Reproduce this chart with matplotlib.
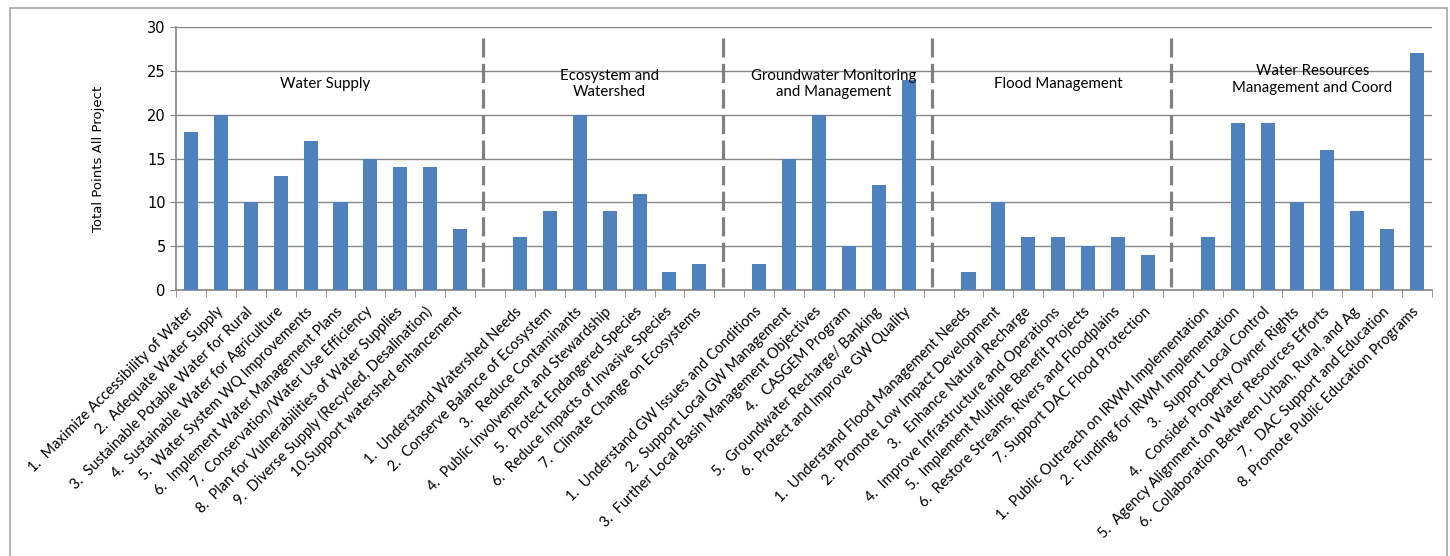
import numpy as np
import matplotlib.pyplot as plt
from matplotlib.patches import Rectangle

# groups of objectives and their total points
groups = ["Water Supply", "Ecosystem and\nWatershed", "Groundwater Monitoring\nand Management",
          "Flood Management", "Water Resources\nManagement and Coord"]

water_supply = ["1.  Maximize Accessibility of Water", "2.  Adequate Water Supply",
                "3.  Sustainable Potable Water for Rural", "4.  Sustainable Water for Agriculture",
                "5.  Water System WQ Improvements", "6.  Implement Water Management Plans",
                "7.  Conservation/Water Use Efficiency", "8.  Plan for Vulnerabilities of Water Supplies",
                "9.  Diverse Supply (Recycled, Desalination)", "10.Support watershed enhancement"]
water_supply_pts = [18, 20, 10, 13, 17, 10, 15, 14, 14, 7]

ecosystem = ["1.  Understand Watershed Needs", "2.  Conserve Balance of Ecosystem",
             "3.   Reduce Contaminants", "4.  Public Involvement and Stewardship",
             "5.  Protect Endangered Species", "6.  Reduce Impacts of Invasive Species",
             "7.  Climate Change on Ecosystems"]
ecosystem_pts = [6, 9, 20, 9, 11, 2, 3]

groundwater = ["1.  Understand GW Issues and Conditions", "2.  Support Local GW Management",
               "3.  Further Local Basin Management Objectives", "4.   CASGEM Program",
               "5.  Groundwater Recharge/ Banking", "6.  Protect and Improve GW Quality"]
groundwater_pts = [3, 15, 20, 5, 12, 24]

flood = ["1.  Understand Flood Management Needs", "2.  Promote Low Impact Development",
         "3.   Enhance Natural Recharge", "4.  Improve Infrastructure and Operations",
         "5.  Implement Multiple Benefit Projects", "6.  Restore Streams, Rivers and Floodplains",
         "7. Support DAC Flood Protection"]
flood_pts = [2, 10, 6, 6, 5, 6, 4]

wrm = ["1.  Public Outreach on IRWM Implementation", "2.  Funding for IRWM Implementation",
       "3.   Support Local Control", "4.   Consider Property Owner Rights",
       "5.  Agency Alignment on Water Resources Efforts", "6.  Collaboration Between Urban, Rural, and Ag",
       "7.   DAC Support and Education", "8. Promote Public Education Programs"]
wrm_pts = [6, 19, 19, 10, 16, 9, 7, 27]

group_labels = [water_supply, ecosystem, groundwater, flood, wrm]
group_pts = [water_supply_pts, ecosystem_pts, groundwater_pts, flood_pts, wrm_pts]

# build category list with an empty separator slot between groups
labels, values, seps, centers = [], [], [], []
for i, (lab, pts) in enumerate(zip(group_labels, group_pts)):
    start = len(labels)
    labels += lab
    values += pts
    centers.append((start + len(labels) - 1) / 2)
    if i < len(group_labels) - 1:
        seps.append(len(labels))
        labels.append("")
        values.append(np.nan)

x = np.arange(len(labels))

fig = plt.figure(figsize=(14.5, 5.56), dpi=100)
ax = fig.add_axes([0.1214, 0.4784, 0.8662, 0.473])

fig.patches.append(Rectangle((0.007, -0.05), 0.991, 1.035, transform=fig.transFigure,
                             fill=False, edgecolor='#a6a6a6', linewidth=1.2))

ax.bar(x, values, width=0.47, color='#4f81bd', zorder=3)

for s in seps:
    ax.plot([s - 0.22, s - 0.22], [0.4, 28.7], color='#808080', lw=2.3,
            dashes=(6, 2), zorder=4)

group_y = [23.5, 23.5, 23.5, 23.5, 24.0]
for c, g, gy in zip(centers, groups, group_y):
    ax.text(c, gy, g, ha='center', va='center', fontsize=10.8, linespacing=1.25,
            family='Lato', zorder=5)

ax.set_xlim(-0.5, len(labels) - 0.5)
ax.set_ylim(0, 30)
ax.set_yticks(np.arange(0, 31, 5))
ax.yaxis.grid(True, color='#868686', lw=1)
ax.set_axisbelow(True)

ax.set_xticks(x)
ax.set_xticklabels(labels, rotation=45, ha='right', va='center', rotation_mode='anchor',
                   fontsize=10.5, family='Lato')
ax.tick_params(axis='x', length=0, pad=14)
ax.set_xticks(np.arange(-0.5, len(labels), 1), minor=True)
ax.tick_params(axis='x', which='minor', length=5, color='#868686', direction='out')
ax.tick_params(axis='y', length=4, color='#868686', labelsize=10.5)

for side in ['top', 'right']:
    ax.spines[side].set_visible(False)
for side in ['left', 'bottom']:
    ax.spines[side].set_color('#868686')
    ax.spines[side].set_linewidth(1.2)

ax.set_ylabel("Total Points All Project", fontsize=9.5, labelpad=30)

fig.savefig("out.png", dpi=100)
